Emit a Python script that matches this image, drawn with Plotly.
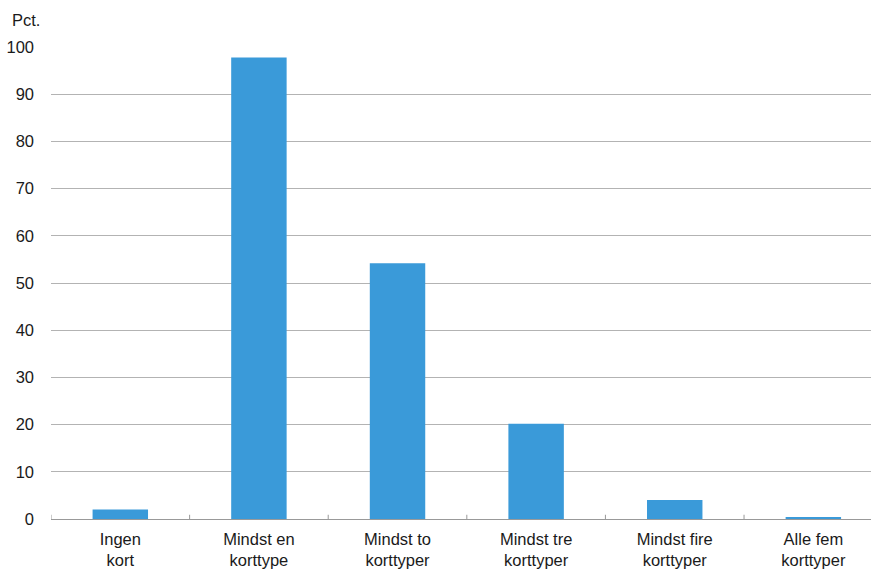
import plotly.graph_objects as go

# Share of respondents by number of card types held (percent)
categories = ["Ingen<br>kort", "Mindst en<br>korttype", "Mindst to<br>korttyper",
              "Mindst tre<br>korttyper", "Mindst fire<br>korttyper", "Alle fem<br>korttyper"]
values = [2.0, 97.8, 54.2, 20.2, 4.0, 0.25]
y_ticks = [0, 10, 20, 30, 40, 50, 60, 70, 80, 90, 100]

FONT = "Helvetica Neue, Helvetica, Arial, Liberation Sans, sans-serif"
BAR = "#3a9ad9"
SIZE = 16.5

fig = go.Figure(
    go.Bar(
        x=list(range(len(categories))),
        y=values,
        marker=dict(color=BAR, line=dict(width=0)),
        width=0.4,
        hoverinfo="skip",
    )
)

fig.update_layout(
    width=871,
    height=569,
    margin=dict(l=51, r=0, t=47, b=50),
    paper_bgcolor="white",
    plot_bgcolor="white",
    showlegend=False,
    font=dict(family=FONT, size=SIZE, color="#1a1a1a"),
    annotations=[
        dict(
            text="Pct.",
            xref="paper", yref="paper",
            x=-41 / 820, y=1 + 27 / 472,
            xanchor="left", yanchor="middle",
            showarrow=False,
            font=dict(family=FONT, size=SIZE, color="#1a1a1a"),
        )
    ],
)

fig.update_xaxes(
    range=[-0.5, 5.416],
    tickmode="array",
    tickvals=list(range(len(categories))),
    ticktext=categories,
    showgrid=False,
    zeroline=False,
    showline=False,
    ticks="",
    ticklabelstandoff=8,
)

# Small upward ticks at category boundaries along the baseline
for b in [i - 0.5 for i in range(len(categories) + 1)]:
    fig.add_shape(
        type="line", xref="x", yref="y",
        x0=b, x1=b, y0=0, y1=0.9,
        line=dict(color="#999999", width=1),
    )

fig.update_yaxes(
    range=[0, 100],
    tickmode="array",
    tickvals=y_ticks,
    showgrid=True,
    gridcolor="#b3b3b3",
    gridwidth=1,
    zeroline=True,
    zerolinecolor="#999999",
    zerolinewidth=1,
    showline=False,
    ticks="",
    ticklabelstandoff=16,
)

fig.write_html("out.html")
